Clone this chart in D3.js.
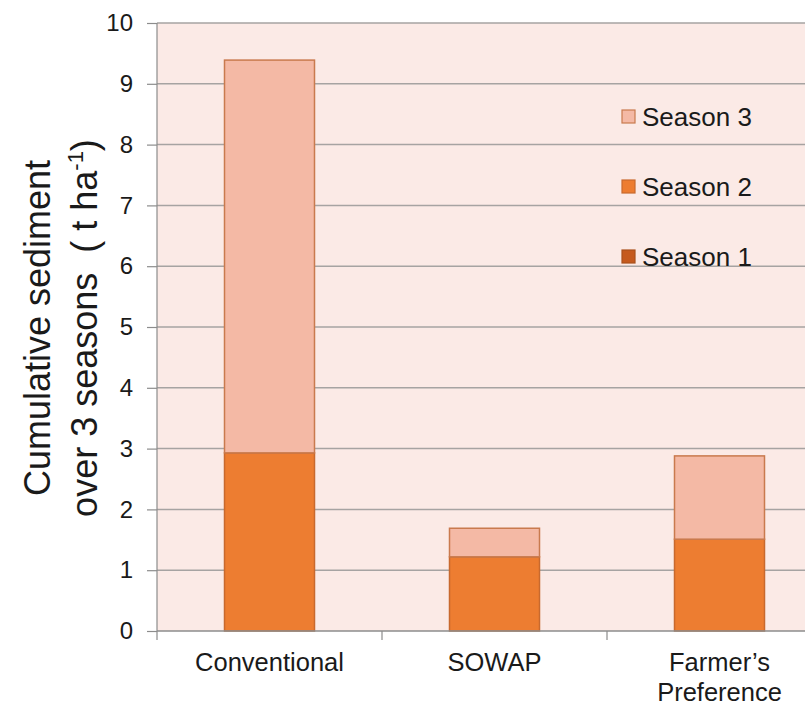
<!DOCTYPE html>
<html>
<head>
<meta charset="utf-8">
<script src="https://cdn.jsdelivr.net/npm/d3@7"></script>
<style>
  body { margin: 0; background: #fff; }
  text { font-family: "Liberation Sans", Arial, sans-serif; fill: #1a1a1a; }
</style>
</head>
<body>
<div id="chart"></div>
<script>
// data
var categories = ["Conventional", "SOWAP", "Farmer\u2019s Preference"];
var season1 = [0, 0, 0];
var season2 = [2.93, 1.22, 1.51];
var season3 = [6.46, 0.47, 1.37];
var seriesNames = ["Season 1", "Season 2", "Season 3"];
var yTicks = [0, 1, 2, 3, 4, 5, 6, 7, 8, 9, 10];

var fills = { "Season 1": "#C55A1E", "Season 2": "#ED7D31", "Season 3": "#F4B9A5" };
var strokes = { "Season 1": "#A9501C", "Season 2": "#C8692E", "Season 3": "#C97A4E" };

var width = 805, height = 706;
var margin = { top: 23, left: 157, bottom: 75 };
var plotRight = 832; // chart is clipped on the right

var svg = d3.select("#chart").append("svg")
  .attr("width", width)
  .attr("height", height);

var x = d3.scaleBand()
  .domain(categories)
  .range([margin.left, plotRight])
  .paddingInner(0.6)
  .paddingOuter(0.3);

var y = d3.scaleLinear()
  .domain([0, 10])
  .range([height - margin.bottom, margin.top]);

// plot background
svg.append("rect")
  .attr("x", margin.left)
  .attr("y", y(10))
  .attr("width", width - margin.left)
  .attr("height", y(0) - y(10))
  .attr("fill", "#FBEAE6");

// gridlines
svg.append("g").selectAll("line")
  .data(yTicks.filter(function(d) { return d > 0; }))
  .enter().append("line")
  .attr("x1", margin.left)
  .attr("x2", width)
  .attr("y1", function(d) { return y(d); })
  .attr("y2", function(d) { return y(d); })
  .attr("stroke", "#A6A3A2")
  .attr("stroke-width", 1.5);

// stack
var rows = categories.map(function(c, i) {
  return { cat: c, "Season 1": season1[i], "Season 2": season2[i], "Season 3": season3[i] };
});
var stacked = d3.stack().keys(seriesNames)(rows);

svg.append("g").selectAll("g")
  .data(stacked)
  .enter().append("g")
  .attr("fill", function(d) { return fills[d.key]; })
  .attr("stroke", function(d) { return strokes[d.key]; })
  .attr("stroke-width", 1.5)
  .selectAll("rect")
  .data(function(d) { return d.filter(function(p) { return p[1] - p[0] > 0; }); })
  .enter().append("rect")
  .attr("x", function(d) { return x(d.data.cat); })
  .attr("width", x.bandwidth())
  .attr("y", function(d) { return y(d[1]); })
  .attr("height", function(d) { return y(d[0]) - y(d[1]); });

// y axis
var yAxis = svg.append("g")
  .attr("transform", "translate(" + margin.left + ",0)")
  .call(d3.axisLeft(y).tickValues(yTicks).tickSize(10).tickPadding(14).tickFormat(d3.format("d")));
yAxis.selectAll("line").attr("stroke", "#8C8C8C").attr("stroke-width", 1.2);
yAxis.select(".domain").attr("stroke", "#8C8C8C").attr("stroke-width", 1.2).attr("d", "M0," + y(10) + "V" + y(0));
yAxis.selectAll("text").attr("font-size", 24).attr("fill", "#1a1a1a")
  .attr("font-family", "Liberation Sans, Arial, sans-serif");

// x axis
var xg = svg.append("g");
xg.append("line")
  .attr("x1", margin.left).attr("x2", width)
  .attr("y1", y(0)).attr("y2", y(0))
  .attr("stroke", "#8C8C8C").attr("stroke-width", 1.5);
xg.selectAll(".xt")
  .data(d3.range(categories.length + 1))
  .enter().append("line")
  .attr("x1", function(i) { return margin.left + i * x.step(); })
  .attr("x2", function(i) { return margin.left + i * x.step(); })
  .attr("y1", y(0)).attr("y2", y(0) + 9)
  .attr("stroke", "#8C8C8C").attr("stroke-width", 1.2);

var xLabels = [["Conventional"], ["SOWAP"], ["Farmer\u2019s", "Preference"]];
categories.forEach(function(c, i) {
  var t = svg.append("text")
    .attr("x", x(c) + x.bandwidth() / 2)
    .attr("y", y(0) + 40)
    .attr("text-anchor", "middle")
    .attr("font-size", 25.5);
  xLabels[i].forEach(function(line, j) {
    t.append("tspan")
      .attr("x", x(c) + x.bandwidth() / 2)
      .attr("dy", j === 0 ? 0 : 30)
      .text(line);
  });
});

// y title
var title = svg.append("text")
  .attr("transform", "translate(50,328) rotate(-90)")
  .attr("text-anchor", "middle")
  .attr("font-size", 36);
title.append("tspan").attr("x", 0).attr("dy", 0).text("Cumulative sediment");
var l2 = title.append("tspan").attr("x", 0).attr("dy", 47);
l2.append("tspan").text("over 3 seasons\u00a0\u00a0( t ha");
l2.append("tspan").attr("font-size", 22).attr("dy", -14).text("-1");
l2.append("tspan").attr("dy", 14).text(")");

// legend
var legendItems = ["Season 3", "Season 2", "Season 1"];
var legend = svg.append("g").attr("transform", "translate(622,110)");
legendItems.forEach(function(k, i) {
  var g = legend.append("g").attr("transform", "translate(0," + (i * 70) + ")");
  g.append("rect")
    .attr("width", 13).attr("height", 13)
    .attr("fill", fills[k])
    .attr("stroke", strokes[k])
    .attr("stroke-width", 1.2);
  g.append("text")
    .attr("x", 20)
    .attr("y", 16)
    .attr("font-size", 26)
    .text(k);
});
</script>
</body>
</html>
